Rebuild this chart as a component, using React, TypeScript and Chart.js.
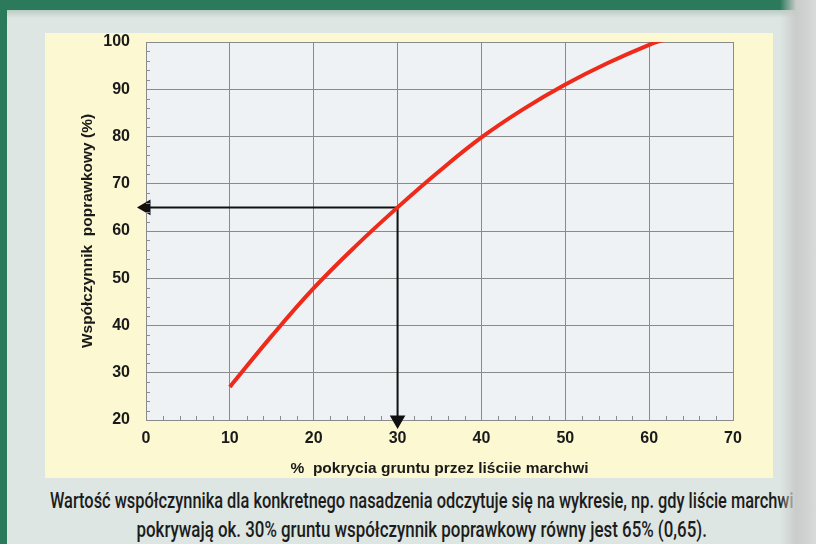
import React, { useEffect, useLayoutEffect, useRef } from "react";
import { Chart, registerables } from "chart.js";

Chart.register(...registerables);

const coverX = [10, 15, 20, 25, 30, 35, 40, 45, 50, 55, 60, 62];
const coefY = [27, 37.8, 47.9, 56.8, 65, 72.7, 79.8, 85.8, 91.0, 95.5, 99.4, 100.6];
const arrowX = [0, 30, 30];
const arrowY = [65, 65, 20];
const xTicks = [0, 10, 20, 30, 40, 50, 60, 70];
const yTicks = [20, 30, 40, 50, 60, 70, 80, 90, 100];
const xTitle = "%  pokrycia gruntu przez liściie marchwi";
const yTitle = "Współczynnik  poprawkowy (%)";
const captionLines = [
  "Wartość współczynnika dla konkretnego nasadzenia odczytuje się na wykresie, np. gdy liście marchwi",
  "pokrywają ok. 30% gruntu współczynnik poprawkowy równy jest 65% (0,65).",
];
const captionWidths = [744, 570];

const plotBg = {
  id: "plotBg",
  beforeDraw(chart: any) {
    const { ctx, chartArea: a } = chart;
    ctx.save();
    ctx.fillStyle = "#eef2f5";
    ctx.fillRect(a.left, a.top, a.right - a.left, a.bottom - a.top);
    ctx.restore();
  },
  afterDatasetsDraw(chart: any) {
    const { ctx, chartArea: a, scales } = chart;
    ctx.save();
    ctx.strokeStyle = "#8c8c8c";
    ctx.lineWidth = 1;
    ctx.beginPath();
    for (let v = 22; v < 100; v += 2) {
      if (v % 10 === 0) continue;
      const y = Math.round(scales.y.getPixelForValue(v)) + 0.5;
      ctx.moveTo(a.left, y);
      ctx.lineTo(a.left + 4, y);
    }
    for (let v = 2; v < 70; v += 2) {
      if (v % 10 === 0) continue;
      const x = Math.round(scales.x.getPixelForValue(v)) + 0.5;
      ctx.moveTo(x, a.bottom);
      ctx.lineTo(x, a.bottom - 4);
    }
    ctx.stroke();
    ctx.restore();
  },
};

function ChartBox() {
  const ref = useRef<HTMLCanvasElement>(null);
  useEffect(() => {
    if (!ref.current) return;
    const tickFont = { family: "'Liberation Sans', Arial, sans-serif", size: 16, weight: "bold" as const };
    const titleFont = { family: "'Liberation Sans', Arial, sans-serif", size: 15.5, weight: "bold" as const };
    const chart = new Chart(ref.current, {
      type: "line",
      data: {
        datasets: [
          {
            data: arrowX.map((x, i) => ({ x, y: arrowY[i] })),
            borderColor: "#111",
            borderWidth: 2,
            tension: 0,
            pointStyle: "triangle",
            pointRadius: [7, 0, 7],
            pointRotation: [270, 0, 180],
            pointBackgroundColor: "#111",
            pointBorderColor: "#111",
            clip: false as any,
            order: 2,
          },
          {
            data: coverX.map((x, i) => ({ x, y: coefY[i] })),
            borderColor: "#ee2a1a",
            borderWidth: 4,
            tension: 0.4,
            pointRadius: 0,
            order: 1,
          },
        ],
      },
      options: {
        animation: false,
        responsive: false,
        events: [],
        layout: { padding: { left: 0, top: 8, right: 40, bottom: 0 } },
        plugins: { legend: { display: false }, tooltip: { enabled: false } },
        scales: {
          x: {
            type: "linear",
            min: 0,
            max: 70,
            afterFit: (s: any) => { s.height = 58; s.paddingLeft = 0; s.paddingRight = 0; },
            afterBuildTicks: (s: any) => { s.ticks = xTicks.map((v) => ({ value: v })); },
            grid: { color: "#8a8a8a", drawTicks: false, lineWidth: 1 },
            border: { color: "#8a8a8a" },
            ticks: { color: "#1a1a1a", font: tickFont, padding: 9 },
            title: {
              display: true,
              text: xTitle,
              color: "#1a1a1a",
              font: titleFont,
              padding: { top: 5, bottom: 0 },
            },
          },
          y: {
            type: "linear",
            min: 20,
            max: 100,
            afterFit: (s: any) => { s.width = 101; s.paddingTop = 0; s.paddingBottom = 0; },
            afterBuildTicks: (s: any) => { s.ticks = yTicks.map((v) => ({ value: v })); },
            grid: { color: "#8a8a8a", drawTicks: false, lineWidth: 1 },
            border: { color: "#8a8a8a" },
            ticks: { color: "#1a1a1a", font: tickFont, padding: 16 },
            title: {
              display: true,
              text: yTitle,
              color: "#1a1a1a",
              font: titleFont,
              padding: { top: 33, bottom: 0 },
            },
          },
        },
      },
      plugins: [plotBg],
    });
    return () => chart.destroy();
  }, []);
  return <canvas ref={ref} width={728} height={445} style={{ position: "absolute", left: 45, top: 33, width: 728, height: 445 }} />;
}

function Caption() {
  const refs = useRef<(HTMLSpanElement | null)[]>([]);
  useLayoutEffect(() => {
    refs.current.forEach((el, i) => {
      if (el) el.style.transform = `scaleX(${captionWidths[i] / el.offsetWidth})`;
    });
  }, []);
  return (
    <div
      style={{
        position: "absolute",
        left: -578,
        top: 486,
        width: 2000,
        textAlign: "center",
        fontFamily: "Roboto, 'DejaVu Sans', sans-serif",
        fontWeight: 500,
        fontSize: 22,
        lineHeight: "29px",
        color: "#1c1c1c",
        whiteSpace: "nowrap",
      }}
    >
      {captionLines.map((l, i) => (
        <div key={i}>
          <span ref={(el) => { refs.current[i] = el; }} style={{ display: "inline-block", transformOrigin: "50% 50%" }}>
            {l}
          </span>
        </div>
      ))}
    </div>
  );
}

export default function App() {
  return (
    <div style={{ position: "fixed", left: 0, top: 0, width: 816, height: 544, overflow: "hidden", background: "#dde6e2" }}>
      <div style={{ position: "absolute", left: 0, top: 0, width: 816, height: 10, background: "#2c7a5c" }} />
      <div style={{ position: "absolute", left: 0, top: 10, width: 816, height: 8, background: "linear-gradient(#b9cbc4, #dde6e2)" }} />
      <div style={{ position: "absolute", left: 0, top: 0, width: 7, height: 544, background: "#2c7a5c" }} />
      <div style={{ position: "absolute", left: 45, top: 33, width: 728, height: 445, background: "#fbf8d2" }} />
      <ChartBox />
      <Caption />
      <div style={{ position: "absolute", left: 780, top: 0, width: 36, height: 544, background: "linear-gradient(90deg, rgba(221,230,226,0), #c9cccb 45%, #d8d9d9)" }} />
    </div>
  );
}
